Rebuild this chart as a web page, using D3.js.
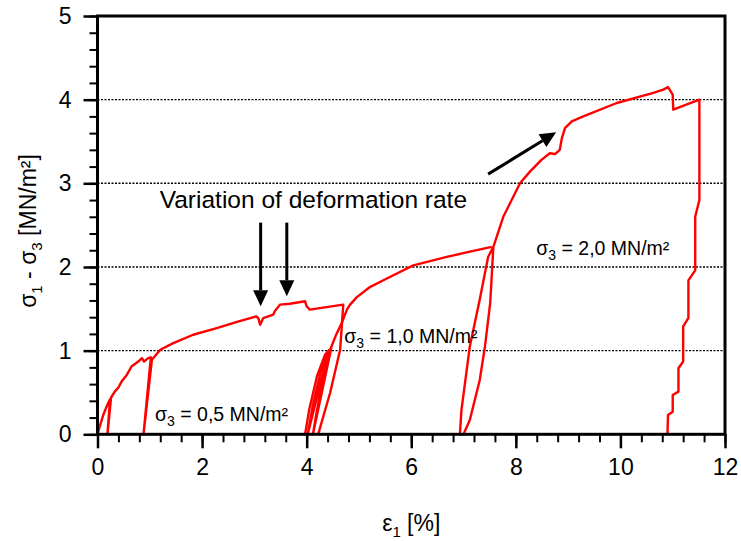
<!DOCTYPE html>
<html><head><meta charset="utf-8">
<script src="https://cdn.jsdelivr.net/npm/d3@7"></script>
<style>body{margin:0;background:#fff}svg{display:block;font-family:"Liberation Sans",Arial,sans-serif}</style>
</head><body><svg id="c" width="741" height="541"></svg>
<script>
const xTicks = [0, 2, 4, 6, 8, 10, 12];
const yTicks = [0, 1, 2, 3, 4, 5];
const gridLevels = [1, 2, 3, 4];

// sigma3 = 0.5 MN/m2
const curve05 = [[0,0],[0.05,0.11],[0.11,0.23],[0.18,0.34],[0.24,0.42],[0.19,0],[0.26,0.44],[0.33,0.51],[0.40,0.56],[0.46,0.63],[0.56,0.71],[0.65,0.81],[0.78,0.87],[0.85,0.91],[0.89,0.87],[0.97,0.91],[1.02,0.92],[0.88,0],[1.04,0.89],[1.20,1.01],[1.45,1.09],[1.83,1.19],[2.28,1.27],[2.70,1.35],[3.04,1.41],[3.08,1.38],[3.11,1.31],[3.17,1.39],[3.36,1.43],[3.39,1.47],[3.49,1.55],[3.68,1.56],[3.97,1.59],[4.0,1.53],[4.06,1.49],[4.70,1.55],[4.64,1.01],[4.45,0.5],[4.22,0]];
// sigma3 = 1.0 MN/m2
const curve10 = [[3.97,0],[4.05,0.3],[4.2,0.7],[4.35,0.95],[4.42,1.0],[4.02,0],[4.12,0.35],[4.27,0.75],[4.4,0.98],[4.47,1.03],[4.12,0],[4.2,0.3],[4.33,0.72],[4.45,1.01],[4.57,1.2],[4.67,1.33],[4.77,1.49],[4.83,1.55],[4.96,1.64],[5.21,1.76],[5.59,1.88],[6.04,2.02],[6.68,2.12],[7.1,2.18],[7.54,2.24]];
// sigma3 = 2.0 MN/m2
const curve20 = [[7.57,2.24],[7.51,1.57],[7.41,1.05],[7.31,0.65],[7.12,0.17],[7.0,0],[6.93,0],[6.96,0.29],[7.12,1.05],[7.31,1.61],[7.47,2.12],[7.57,2.24],[7.76,2.60],[7.92,2.80],[8.08,3.0],[8.27,3.14],[8.49,3.28],[8.65,3.36],[8.75,3.35],[8.84,3.40],[8.88,3.54],[8.94,3.66],[9.07,3.74],[9.29,3.80],[9.93,3.96],[10.63,4.08],[10.82,4.12],[10.91,4.15],[11.0,4.06],[11.01,3.88],[11.51,4.0],[11.51,2.80],[11.43,2.60],[11.43,1.96],[11.30,1.84],[11.30,1.39],[11.20,1.29],[11.20,0.87],[11.11,0.79],[11.11,0.51],[11.0,0.47],[11.0,0.27],[10.91,0.23],[10.90,0]];

const curves = [curve05, curve10, curve20];

const svg = d3.select("#c");
const x = d3.scaleLinear().domain([0, 12]).range([97.5, 725]);
const y = d3.scaleLinear().domain([0, 5]).range([434.3, 16]);

// grid
svg.append("g").selectAll("line").data(gridLevels).join("line")
  .attr("x1", x(0)).attr("x2", x(12)).attr("y1", d => y(d)).attr("y2", d => y(d))
  .attr("stroke", "#000").attr("stroke-width", 1.4).attr("stroke-dasharray", "2,1.5");

// curves
const line = d3.line().x(d => x(d[0])).y(d => y(d[1]));
svg.append("g").selectAll("path").data(curves).join("path")
  .attr("d", line).attr("fill", "none").attr("stroke", "#ff0000")
  .attr("stroke-width", 2.4).attr("stroke-linejoin", "round");

// axes
const xMinor = d3.range(0, 12.001, 0.4);
const yMinor = d3.range(0, 5.001, 0.2);
const xAx = svg.append("g").attr("transform", `translate(0,${y(0)})`);
xAx.call(d3.axisBottom(x).tickValues(xMinor).tickSize(8).tickFormat(""));
xAx.call(g => g.select(".domain").remove());
xAx.selectAll("line").attr("stroke-width", 2);
const xAxMaj = svg.append("g").attr("transform", `translate(0,${y(0)})`)
  .call(d3.axisBottom(x).tickValues(xTicks).tickSize(14).tickPadding(10).tickFormat(d3.format("d")));
xAxMaj.select(".domain").remove();
xAxMaj.selectAll("line").attr("stroke-width", 2.5);
xAxMaj.selectAll("text").attr("font-size", 23).attr("fill", "#000").attr("font-family", "Liberation Sans, Arial, sans-serif");

const yAx = svg.append("g").attr("transform", `translate(${x(0)},0)`);
yAx.call(d3.axisLeft(y).tickValues(yMinor).tickSize(8).tickFormat(""));
yAx.call(g => g.select(".domain").remove());
yAx.selectAll("line").attr("stroke-width", 2);
const yAxMaj = svg.append("g").attr("transform", `translate(${x(0)},0)`)
  .call(d3.axisLeft(y).tickValues(yTicks).tickSize(14).tickPadding(12).tickFormat(d3.format("d")));
yAxMaj.select(".domain").remove();
yAxMaj.selectAll("line").attr("stroke-width", 2.5);
yAxMaj.selectAll("text").attr("font-size", 23).attr("fill", "#000").attr("font-family", "Liberation Sans, Arial, sans-serif");

// frame
svg.append("rect").attr("x", x(0)).attr("y", y(5)).attr("width", x(12) - x(0)).attr("height", y(0) - y(5))
  .attr("fill", "none").attr("stroke", "#000").attr("stroke-width", 3);

// axis titles
const xt = svg.append("text").attr("x", x(6)).attr("y", 531).attr("text-anchor", "middle").attr("font-size", 23);
xt.append("tspan").text("ε");
xt.append("tspan").attr("font-size", 15).attr("dy", 6).text("1");
xt.append("tspan").attr("dy", -6).text(" [%]");

const yt = svg.append("text").attr("transform", "translate(36,231) rotate(-90)").attr("text-anchor", "middle").attr("font-size", 23);
yt.append("tspan").text("σ");
yt.append("tspan").attr("font-size", 15).attr("dy", 6).text("1");
yt.append("tspan").attr("dy", -6).text(" - σ");
yt.append("tspan").attr("font-size", 15).attr("dy", 6).text("3");
yt.append("tspan").attr("dy", -6).text(" [MN/m²]");

// sigma3 labels
const labels = [
  {t: "0,5", x: 1.1, y: 0.16},
  {t: "1,0", x: 4.72, y: 1.095},
  {t: "2,0", x: 8.39, y: 2.145}
];
labels.forEach(l => {
  const t = svg.append("text").attr("x", x(l.x)).attr("y", y(l.y)).attr("font-size", 19.5);
  t.append("tspan").text("σ");
  t.append("tspan").attr("font-size", 14).attr("dy", 5).text("3");
  t.append("tspan").attr("dy", -5).text(` = ${l.t} MN/m²`);
});

// annotation
svg.append("text").attr("x", x(1.19)).attr("y", y(2.70)).attr("font-size", 24.5).text("Variation of deformation rate");

function arrow(x0, y0, x1, y1) {
  const px0 = x(x0), py0 = y(y0), px1 = x(x1), py1 = y(y1);
  const ang = Math.atan2(py1 - py0, px1 - px0);
  const L = 16, W = 7.5;
  const bx = px1 - L * Math.cos(ang), by = py1 - L * Math.sin(ang);
  svg.append("line").attr("x1", px0).attr("y1", py0).attr("x2", bx).attr("y2", by)
    .attr("stroke", "#000").attr("stroke-width", 3);
  const nx = -Math.sin(ang), ny = Math.cos(ang);
  svg.append("path").attr("d", `M${px1},${py1}L${bx + nx * W},${by + ny * W}L${bx - nx * W},${by - ny * W}Z`).attr("fill", "#000");
}
arrow(3.12, 2.53, 3.12, 1.53);
arrow(3.62, 2.53, 3.62, 1.65);
arrow(7.47, 3.11, 8.77, 3.61);
</script></body></html>
